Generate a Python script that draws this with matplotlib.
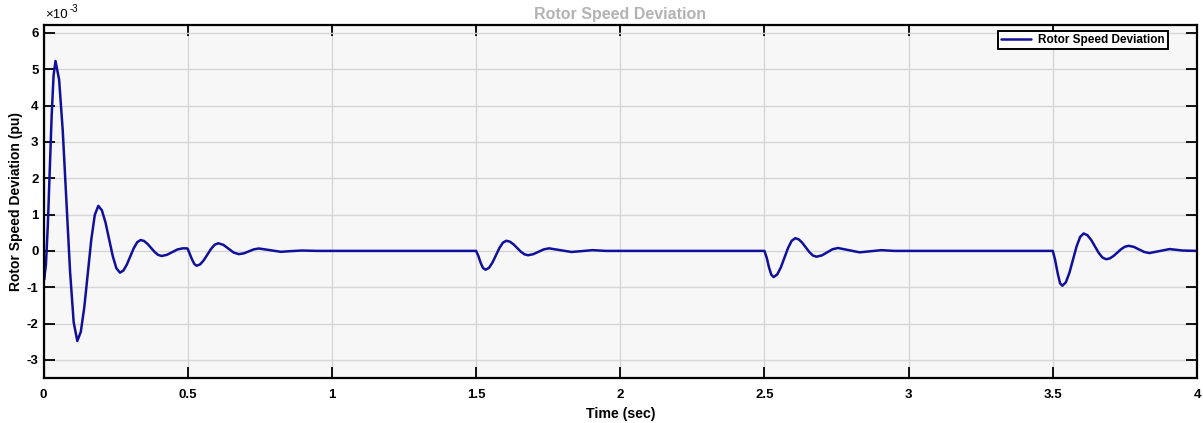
import matplotlib
matplotlib.use("Agg")
import matplotlib.pyplot as plt
from matplotlib.ticker import FuncFormatter

# ---- data (y in units of 1e-3 pu) ----
t_sec = [
    0.0, 0.0017, 0.0083, 0.0150, 0.0216, 0.0283, 0.0349, 0.0416,
    0.0542, 0.0668, 0.0794, 0.0920, 0.1046, 0.1172,
    0.1293, 0.1415, 0.1536, 0.1657, 0.1779, 0.190,
    0.2025, 0.2151, 0.2276, 0.2401, 0.2527, 0.2652,
    0.2772, 0.2891, 0.3011, 0.3130, 0.3250, 0.3369,
    0.3490, 0.3612, 0.3733, 0.3854, 0.3976, 0.4097,
    0.4279, 0.4461, 0.4643, 0.4825, 0.497,
    0.500, 0.508, 0.516, 0.523, 0.531,
    0.5435, 0.556, 0.5685, 0.581, 0.5934, 0.6059,
    0.6239, 0.6418, 0.6596, 0.6776,
    0.695, 0.7123, 0.7296, 0.747,
    0.785, 0.823, 0.860, 0.896, 0.95,
    1.500, 1.508, 1.516, 1.524, 1.533,
    1.545, 1.557, 1.569, 1.581, 1.593, 1.605,
    1.6175, 1.630, 1.6425, 1.655, 1.6675, 1.680,
    1.698, 1.7165, 1.735, 1.753,
    1.792, 1.831, 1.868, 1.904, 1.95,
    2.500, 2.508, 2.516, 2.524, 2.532,
    2.5445, 2.557, 2.5695, 2.582, 2.5945, 2.607,
    2.6192, 2.6313, 2.6435, 2.6557, 2.6678, 2.680,
    2.699, 2.7175, 2.736, 2.755,
    2.7925, 2.830, 2.868, 2.905, 2.95,
    3.500, 3.508, 3.517, 3.525, 3.533,
    3.5453, 3.5577, 3.570, 3.5823, 3.5947, 3.607,
    3.620, 3.633, 3.646, 3.659, 3.672, 3.685,
    3.698, 3.711, 3.724, 3.737, 3.750, 3.763,
    3.781, 3.799, 3.817, 3.835,
    3.870, 3.905, 3.95, 4.0,
]
speed_dev_e3 = [
    0.0, -0.80, -0.396, 0.708, 2.215, 3.72, 4.826, 5.23,
    4.713, 3.303, 1.375, -0.553, -1.963, -2.48,
    -2.231, -1.55, -0.62, 0.31, 0.991, 1.24,
    1.117, 0.78, 0.32, -0.14, -0.477, -0.60,
    -0.54, -0.375, -0.15, 0.075, 0.24, 0.30,
    0.271, 0.19, 0.08, -0.03, -0.111, -0.14,
    -0.109, -0.035, 0.039, 0.07, 0.07,
    0.06, -0.10, -0.25, -0.36, -0.41,
    -0.368, -0.255, -0.10, 0.055, 0.168, 0.21,
    0.166, 0.06, -0.046, -0.09,
    -0.067, -0.012, 0.043, 0.066,
    0.02, -0.025, -0.005, 0.01, 0.0,
    0.0, -0.14, -0.33, -0.47, -0.52,
    -0.466, -0.32, -0.12, 0.08, 0.226, 0.28,
    0.253, 0.18, 0.08, -0.02, -0.093, -0.12,
    -0.092, -0.025, 0.042, 0.07,
    0.02, -0.03, -0.005, 0.02, 0.0,
    0.0, -0.19, -0.46, -0.66, -0.72,
    -0.648, -0.4525, -0.185, 0.0825, 0.278, 0.35,
    0.316, 0.2225, 0.095, -0.0325, -0.126, -0.16,
    -0.125, -0.04, 0.045, 0.08,
    0.02, -0.04, -0.01, 0.02, 0.0,
    0.0, -0.25, -0.62, -0.89, -0.96,
    -0.864, -0.60, -0.24, 0.12, 0.384, 0.48,
    0.432, 0.3025, 0.125, -0.0525, -0.182, -0.23,
    -0.205, -0.1375, -0.045, 0.0475, 0.115, 0.14,
    0.11, 0.04, -0.03, -0.06,
    -0.005, 0.05, 0.01, 0.0,
]
x_ticks = [0, 0.5, 1, 1.5, 2, 2.5, 3, 3.5, 4]
x_tick_labels = ["0", "0.5", "1", "1.5", "2", "2.5", "3", "3.5", "4"]
y_ticks_e3 = [-3, -2, -1, 0, 1, 2, 3, 4, 5, 6]

plt.rcParams["font.family"] = ["Liberation Sans", "DejaVu Sans"]
plt.rcParams["font.weight"] = "bold"
plt.rcParams["axes.labelweight"] = "bold"
plt.rcParams["axes.unicode_minus"] = False

fig = plt.figure(figsize=(12.03, 4.23), dpi=100)
ax = fig.add_axes([43.5 / 1203, 1 - 378 / 423, (1197 - 43.5) / 1203, (378 - 25) / 423])
ax.set_facecolor("#f7f7f7")

y_vals = [v * 1e-3 for v in speed_dev_e3]
ax.plot(t_sec, y_vals, color="#10109a", lw=1.8, label="Rotor Speed Deviation",
        solid_joinstyle="round", solid_capstyle="round")

ax.set_xlim(0, 4)
ax.set_ylim(-3.5e-3, 6.22e-3)
ax.set_xticks(x_ticks)
ax.set_xticklabels(x_tick_labels)
ax.set_yticks([v * 1e-3 for v in y_ticks_e3])
ax.yaxis.set_major_formatter(FuncFormatter(lambda v, p: f"{round(v * 1e3):d}"))

# exponent label (×10^-3) above the y axis
ax.annotate("\u00d710", xy=(0, 1), xycoords="axes fraction", xytext=(1, 3),
            textcoords="offset points", fontsize=9.5, fontweight="normal",
            ha="left", va="bottom")
ax.annotate("-3", xy=(0, 1), xycoords="axes fraction", xytext=(18.5, 8),
            textcoords="offset points", fontsize=7, fontweight="normal",
            ha="left", va="bottom")

ax.grid(True, color="#d6d6d6", lw=1.0)
ax.set_axisbelow(True)
for s in ax.spines.values():
    s.set_linewidth(1.6)
    s.set_color("black")
ax.tick_params(direction="in", top=True, right=True, length=8, width=1.3,
               labelsize=9.5)
ax.tick_params(axis="x", pad=8)
ax.tick_params(axis="y", pad=3.5)

ax.set_xlabel("Time (sec)", fontsize=10.2, labelpad=4)
ax.set_ylabel("Rotor Speed Deviation (pu)", fontsize=10, labelpad=3)
ax.set_title("Rotor Speed Deviation", fontsize=11.5, color="#b3b3b3",
             fontweight="bold", pad=4)

leg = ax.legend(loc="upper right", bbox_to_anchor=((1168 - 43.5) / 1153.5, (378 - 31) / 353),
                fontsize=8.5, frameon=True, fancybox=False,
                borderaxespad=0.0, handlelength=2.6, borderpad=0.25,
                handletextpad=0.6)
leg.get_frame().set_edgecolor("black")
leg.get_frame().set_linewidth(1.4)
leg.get_frame().set_facecolor("white")
leg.get_frame().set_alpha(1)

fig.savefig("out.png", dpi=100)
